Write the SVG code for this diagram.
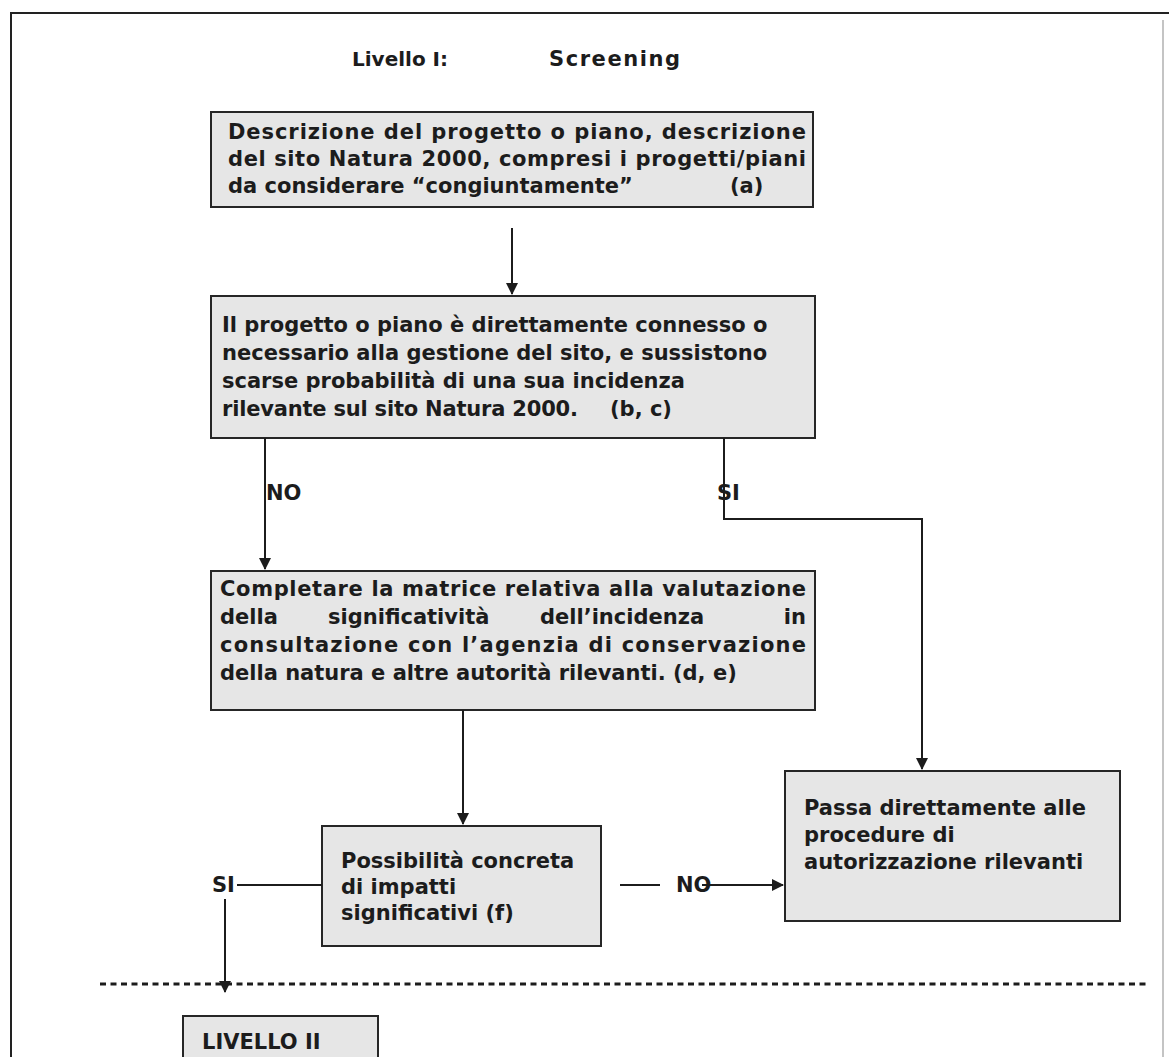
<svg xmlns="http://www.w3.org/2000/svg" width="1169" height="1057" viewBox="0 0 1169 1057">
  <style>
    .bg { fill: #ffffff; }
    .frame { fill: none; stroke: #222; stroke-width: 2; }
    .frame-r { fill: none; stroke: #c4c4c4; stroke-width: 2; }
    .box { fill: #e6e6e6; stroke: #262626; stroke-width: 2; }
    .t { font-family: "DejaVu Sans", "Liberation Sans", sans-serif; font-weight: bold; font-size: 21px; fill: #1c1c1c; }
    .conn { fill: none; stroke: #1c1c1c; stroke-width: 2; }
    .dots { fill: none; stroke: #1c1c1c; stroke-width: 3; stroke-dasharray: 6 4.5; }
  </style>
  <defs>
    <marker id="arrow" viewBox="0 0 12 12" refX="11" refY="6" markerWidth="13" markerHeight="12" markerUnits="userSpaceOnUse" orient="auto">
      <path d="M0,0 L12,6 L0,12 Z" fill="#1c1c1c"/>
    </marker>
  </defs>

  <rect class="bg" x="0" y="0" width="1169" height="1057"/>
  <path class="frame" d="M11,1060 L11,13 L1169,13"/>
  <path class="frame-r" d="M1163,20 L1163,1060"/>

  <g id="title">
    <text class="t" x="352" y="66" style="font-size:20px">Livello I:</text>
    <text class="t" x="549" y="66" textLength="131" lengthAdjust="spacing">Screening</text>
  </g>

  <g id="node-descrizione">
    <rect class="box" x="211" y="112" width="602" height="95"/>
    <text class="t" x="228" y="139" textLength="578" lengthAdjust="spacing">Descrizione del progetto o piano, descrizione</text>
    <text class="t" x="228" y="166" textLength="578" lengthAdjust="spacing">del sito Natura 2000, compresi i progetti/piani</text>
    <text class="t" x="228" y="193">da considerare “congiuntamente”</text>
    <text class="t" x="730" y="193">(a)</text>
  </g>

  <g id="node-connesso">
    <rect class="box" x="211" y="296" width="604" height="142"/>
    <text class="t" x="222" y="332">Il progetto o piano è direttamente connesso o</text>
    <text class="t" x="222" y="360">necessario alla gestione del sito, e sussistono</text>
    <text class="t" x="222" y="388">scarse probabilità di una sua incidenza</text>
    <text class="t" x="222" y="416" textLength="356" lengthAdjust="spacing">rilevante sul sito Natura 2000.</text>
    <text class="t" x="610" y="416">(b, c)</text>
  </g>

  <g id="node-matrice">
    <rect class="box" x="211" y="571" width="604" height="139"/>
    <text class="t" x="220" y="596" textLength="586" lengthAdjust="spacing">Completare la matrice relativa alla valutazione</text>
    <text class="t" x="220" y="624">della</text>
    <text class="t" x="328" y="624">significatività</text>
    <text class="t" x="540" y="624">dell’incidenza</text>
    <text class="t" x="806" y="624" text-anchor="end">in</text>
    <text class="t" x="220" y="652" textLength="586" lengthAdjust="spacing">consultazione con l’agenzia di conservazione</text>
    <text class="t" x="220" y="680">della natura e altre autorità rilevanti. (d,  e)</text>
  </g>

  <g id="node-possibilita">
    <rect class="box" x="322" y="826" width="279" height="120"/>
    <text class="t" x="341" y="868">Possibilità concreta</text>
    <text class="t" x="341" y="894">di impatti</text>
    <text class="t" x="341" y="920">significativi (f)</text>
  </g>

  <g id="node-passa">
    <rect class="box" x="785" y="771" width="335" height="150"/>
    <text class="t" x="804" y="815">Passa direttamente alle</text>
    <text class="t" x="804" y="842">procedure di</text>
    <text class="t" x="804" y="869">autorizzazione rilevanti</text>
  </g>

  <g id="node-livello2">
    <rect class="box" x="183" y="1016" width="195" height="60"/>
    <text class="t" x="202" y="1049">LIVELLO  II</text>
  </g>

  <g id="connectors">
    <line class="conn" x1="512" y1="228" x2="512" y2="294" marker-end="url(#arrow)"/>
    <line class="conn" x1="265" y1="438" x2="265" y2="569" marker-end="url(#arrow)"/>
    <polyline class="conn" points="724,438 724,519 922,519 922,769" marker-end="url(#arrow)"/>
    <line class="conn" x1="463" y1="710" x2="463" y2="824" marker-end="url(#arrow)"/>
    <line class="conn" x1="322" y1="885" x2="237" y2="885"/>
    <line class="conn" x1="225" y1="899" x2="225" y2="992" marker-end="url(#arrow)"/>
    <line class="conn" x1="620" y1="885" x2="660" y2="885"/>
    <line class="conn" x1="702" y1="885" x2="783" y2="885" marker-end="url(#arrow)"/>
    <line class="dots" x1="100" y1="984" x2="1150" y2="984"/>
    <text class="t" x="266" y="500">NO</text>
    <text class="t" x="717" y="500">SI</text>
    <text class="t" x="212" y="892">SI</text>
    <text class="t" x="676" y="892">NO</text>
  </g>
</svg>
